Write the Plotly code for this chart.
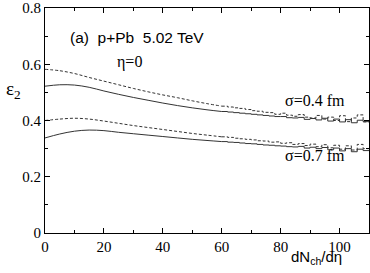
import plotly.graph_objects as go

# smooth region (dN/deta = 0..60)
x_smooth = [0, 5, 10, 15, 20, 25, 30, 35, 40, 45, 50, 55, 60]
s04_dash = [0.582, 0.577, 0.567, 0.553, 0.540, 0.527, 0.514, 0.502, 0.491, 0.481, 0.470, 0.460, 0.451]
s04_solid = [0.522, 0.527, 0.526, 0.518, 0.505, 0.493, 0.482, 0.472, 0.462, 0.453, 0.445, 0.438, 0.432]
s07_dash = [0.400, 0.405, 0.408, 0.405, 0.398, 0.390, 0.382, 0.375, 0.368, 0.361, 0.354, 0.348, 0.342]
s07_solid = [0.338, 0.352, 0.362, 0.366, 0.364, 0.358, 0.353, 0.348, 0.343, 0.338, 0.333, 0.329, 0.325]

# histogram region (bins of 2 from 60 to 110)
x_bins = list(range(60, 112, 2))
h04_dash = [0.451, 0.448, 0.445, 0.443, 0.439, 0.435, 0.433, 0.429, 0.428, 0.422, 0.426, 0.419, 0.415,
            0.421, 0.412, 0.409, 0.418, 0.405, 0.412, 0.400, 0.417, 0.396, 0.409, 0.420, 0.395]
h04_solid = [0.432, 0.430, 0.428, 0.426, 0.424, 0.422, 0.420, 0.418, 0.416, 0.414, 0.414, 0.410, 0.409,
             0.411, 0.404, 0.407, 0.402, 0.408, 0.398, 0.405, 0.395, 0.403, 0.392, 0.401, 0.396]
h07_dash = [0.342, 0.340, 0.337, 0.335, 0.333, 0.331, 0.328, 0.327, 0.323, 0.324, 0.319, 0.321, 0.315,
            0.318, 0.311, 0.316, 0.307, 0.314, 0.303, 0.312, 0.298, 0.310, 0.295, 0.315, 0.300]
h07_solid = [0.325, 0.323, 0.322, 0.320, 0.318, 0.317, 0.315, 0.313, 0.312, 0.310, 0.309, 0.307, 0.306,
             0.308, 0.302, 0.305, 0.300, 0.304, 0.296, 0.302, 0.292, 0.300, 0.289, 0.298, 0.293]

x_major = [0, 20, 40, 60, 80, 100]
x_minor = [10, 30, 50, 70, 90, 110]
y_major = [0, 0.2, 0.4, 0.6, 0.8]
y_major_text = ["0", "0.2", "0.4", "0.6", "0.8"]
y_minor = [0.1, 0.3, 0.5, 0.7]
x_range = [0, 110]
y_range = [0, 0.8]

L, R, T, B = 45, 369, 8, 233
W, H = R - L, B - T

fig = go.Figure()
col = "#333333"
for sm, hb, dash in [(s04_dash, h04_dash, "3px,2px"), (s04_solid, h04_solid, "solid"),
                     (s07_dash, h07_dash, "3px,2px"), (s07_solid, h07_solid, "solid")]:
    fig.add_trace(go.Scatter(x=x_smooth, y=sm, mode="lines",
                             line=dict(color=col, width=1, dash=dash, shape="spline"),
                             showlegend=False, hoverinfo="skip"))
    fig.add_trace(go.Scatter(x=x_bins, y=hb + [hb[-1]], mode="lines",
                             line=dict(color=col, width=1, dash=dash, shape="hv"),
                             showlegend=False, hoverinfo="skip"))

tickfont = dict(family="Liberation Serif", size=15, color="#000000")
axis_common = dict(showline=True, linecolor="#000000", linewidth=1, mirror="ticks",
                   ticks="inside", tickcolor="#000000", tickwidth=1, ticklen=5,
                   showgrid=False, zeroline=False, tickfont=tickfont)
fig.update_layout(
    xaxis=dict(range=x_range, tickmode="array", tickvals=x_major,
               minor=dict(tickmode="array", tickvals=x_minor, ticks="inside", ticklen=3,
                          tickcolor="#000000", tickwidth=1),
               **axis_common),
    yaxis=dict(range=y_range, tickmode="array", tickvals=y_major, ticktext=y_major_text,
               minor=dict(tickmode="array", tickvals=y_minor, ticks="inside", ticklen=3,
                          tickcolor="#000000", tickwidth=1),
               **axis_common),
)

ann = [
    dict(x=68, y=38, text="(a)  p+Pb  5.02 TeV", font=dict(family="Liberation Sans", size=15.5), xanchor="left"),
    dict(x=129, y=62, text="η=0", font=dict(family="Liberation Serif", size=16), xanchor="center"),
    dict(x=283, y=100, text="σ=0.4 fm", font=dict(family="Liberation Serif", size=16), xanchor="left"),
    dict(x=283, y=155, text="σ=0.7 fm", font=dict(family="Liberation Serif", size=16), xanchor="left"),
    dict(x=316, y=257, text="dN<sub>ch</sub>/dη", font=dict(family="Liberation Sans", size=15), xanchor="center"),
    dict(x=13, y=90, text="ε<sub>2</sub>", font=dict(family="Liberation Serif", size=19), xanchor="center"),
]
for a in ann:
    fig.add_annotation(x=(a["x"] - L) / W, y=(B - a["y"]) / H, xref="paper", yref="paper",
                       text=a["text"], showarrow=False, font=dict(color="#000000", **a["font"]),
                       xanchor=a["xanchor"], yanchor="middle")

fig.update_layout(width=370, height=273, margin=dict(l=L, r=370 - R, t=T, b=273 - B, autoexpand=False),
                  plot_bgcolor="#ffffff", paper_bgcolor="#ffffff")
fig.write_html("out.html", post_script="document.body.style.margin='0';",
               config={"displayModeBar": False})
